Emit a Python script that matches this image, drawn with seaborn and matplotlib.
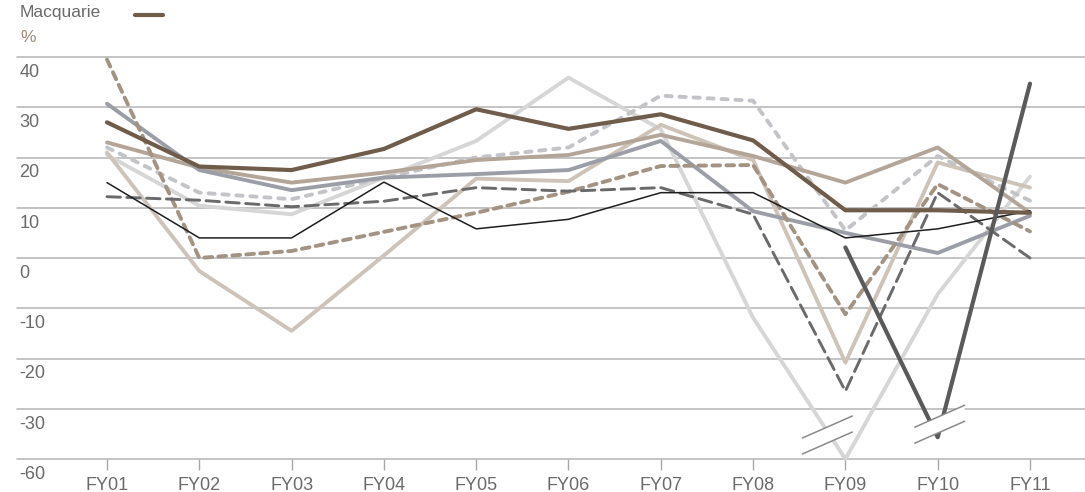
import numpy as np
import pandas as pd
import matplotlib
matplotlib.use("Agg")
import matplotlib.pyplot as plt
import matplotlib.transforms as mtransforms
from matplotlib.patches import Polygon
import seaborn as sns

# Financial years on the x axis
years = ["FY01", "FY02", "FY03", "FY04", "FY05", "FY06", "FY07", "FY08", "FY09", "FY10", "FY11"]

# Return series (%) -- NaN where a series has no value
macquarie = [27, 18.2, 17.5, 21.7, 29.6, 25.7, 28.6, 23.4, 9.5, 9.5, 9.0]
tan_solid = [23, 18, 15, 17, 19.5, 20.5, 24.5, 20.3, 15, 22, 9]
light_tan = [21, -2.6, -14.5, 0.5, 15.8, 15.3, 26.5, 19.5, -20.8, 19, 14]
brown_dashed = [39.5, 0, 1.4, 5.2, 9, 13.2, 18.3, 18.5, -11.2, 14.7, 5.3]
grey_dotted = [22, 13, 11.7, 16, 20, 22, 32.3, 31.3, 5.5, 20.3, 11.4]
dark_dashed = [12.2, 11.5, 10.2, 11.3, 14, 13.3, 14, 8.7, -26.5, 13, 0]
black_thin = [15, 4, 4, 15.1, 5.8, 7.7, 13, 13, 4, 5.8, 9.4]
blue_grey = [30.7, 17.5, 13.5, 16, 16.7, 17.5, 23.3, 9.3, 5, 1, 8.4]
light_grey = [20.5, 10.4, 8.7, 16, 23.3, 35.9, 25.6, -11.9, -60, -7.2, 16.2]
dark_grey = [np.nan] * 8 + [2.1, -47, 34.7]

y_ticks = [40, 30, 20, 10, 0, -10, -20, -30, -60]

# Broken axis: below -30 the scale is compressed threefold
def fwd(v):
    v = np.asarray(v, dtype=float)
    return np.where(v >= -30, v, -30 + (v + 30) / 3.0)

def inv(t):
    t = np.asarray(t, dtype=float)
    return np.where(t >= -30, t, -30 + (t + 30) * 3.0)

sns.set_theme(style="white")
plt.rcParams["font.family"] = ["Liberation Sans", "DejaVu Sans"]

W, H = 1085, 492
fig = plt.figure(figsize=(W / 100, H / 100), dpi=100)
ax = fig.add_axes([17 / W, 1 - 459 / H, 1 - 17 / W, (459 - 57) / H])
ax.set_yscale("function", functions=(fwd, inv))
ax.set_ylim(-60, 40)
ax.set_xlim(-0.975, 10.596)

x = np.arange(len(years))

# gridlines
for v in y_ticks:
    ax.axhline(v, color="#b4b4b4", lw=1.1, zorder=0, clip_on=False)

series = [
    (light_grey, "#d6d6d6", 2.8, "-"),
    (light_tan, "#cdc3b8", 2.8, "-"),
    (grey_dotted, "#c3c4c8", 2.8, (0, (1.6, 2.0))),
    (tan_solid, "#b3a597", 2.8, "-"),
    (blue_grey, "#9b9ea7", 2.8, "-"),
    (brown_dashed, "#a39383", 2.8, (0, (2.0, 1.6))),
    (dark_dashed, "#6a6a6c", 2.1, (0, (4.6, 2.2))),
    (black_thin, "#1e1e1e", 1.1, "-"),
    (macquarie, "#6f5c4b", 3.0, "-"),
    (dark_grey, "#5a5a5a", 3.0, "-"),
]
for i, (vals, col, lw, ls) in enumerate(series):
    df = pd.DataFrame({"x": x, "y": vals}).dropna()
    sns.lineplot(data=df, x="x", y="y", ax=ax, color=col, lw=lw, linestyle=ls,
                 estimator=None, sort=False, zorder=2 + i, clip_on=False,
                 solid_capstyle="round", dash_capstyle="round")

ax.set_xlabel("")
ax.set_ylabel("")
for s in ax.spines.values():
    s.set_visible(False)

ax.set_xticks(x)
ax.set_xticklabels(years)
ax.tick_params(axis="x", bottom=True, length=8, width=1, color="#a8a8a8",
               pad=5, labelsize=13, labelcolor="#6a6a6a", direction="out")
ax.set_yticks([])
ax.grid(False)

# y labels sit just below their gridlines at the left edge
ytrans = mtransforms.offset_copy(
    mtransforms.blended_transform_factory(ax.transAxes, ax.transData),
    fig=fig, x=0, y=-5, units="points")
for v in y_ticks:
    ax.text(0.002, v, f"{v}", transform=ytrans, ha="left", va="top",
            fontsize=13, color="#6a6a6a")

# axis break markers on the off-scale points
fig.canvas.draw()
def axis_break(xi, val, dx, dy):
    px, py = ax.transData.transform((xi, val))
    cx, cy = px + dx, py + dy
    half_w, rise, gap = 25, 11, 8
    up = [(cx - half_w, cy + gap - rise), (cx + half_w, cy + gap + rise)]
    lo = [(cx - half_w, cy - gap - rise), (cx + half_w, cy - gap + rise)]
    ident = mtransforms.IdentityTransform()
    poly = Polygon([up[0], up[1], lo[1], lo[0]], closed=True, facecolor="white",
                   edgecolor="none", transform=ident, zorder=20)
    ax.add_patch(poly)
    for seg in (up, lo):
        ax.add_line(plt.Line2D([seg[0][0], seg[1][0]], [seg[0][1], seg[1][1]],
                               color="#8a8a8a", lw=1.1, transform=ident, zorder=21))

axis_break(8, -60, -18, 24)
axis_break(9, -47, 2, 13)

# legend key and unit label
fig.text(20 / W, 1 - 13 / H, "Macquarie", ha="left", va="center", fontsize=12.5, color="#6a6a6a")
fig.add_artist(plt.Line2D([135 / W, 163 / W], [1 - 15 / H, 1 - 15 / H], color="#6f5c4b", lw=3,
                          solid_capstyle="round", transform=fig.transFigure))
fig.text(20 / W, 1 - 37 / H, "%", ha="left", va="center", fontsize=12.5, color="#9c8a79")

fig.savefig("out.png", dpi=100)
